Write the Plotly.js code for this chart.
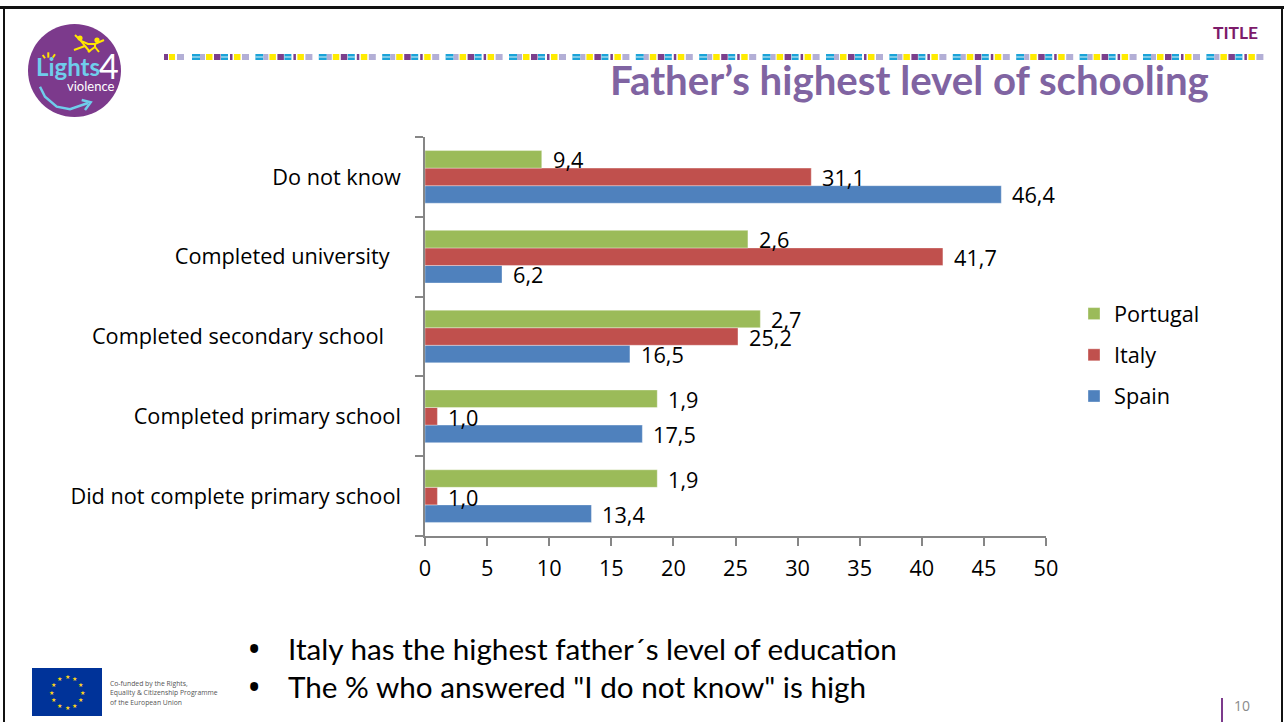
<!DOCTYPE html>
<html>
<head>
<meta charset="utf-8">
<script src="https://cdn.plot.ly/plotly-3.0.1.min.js"></script>
<style>html,body{margin:0;padding:0;background:#fff;overflow:hidden}#chart{width:1284px;height:722px}</style>
</head>
<body>
<div id="chart"></div>
<script>
const categories = ['Did not complete primary school','Completed primary school','Completed secondary school\u00a0\u00a0\u00a0','Completed university\u00a0\u00a0','Do not know'];
const spainValues = [13.4,17.5,16.5,6.2,46.4];
const italyValues = [1.0,1.0,25.2,41.7,31.1];
const portugalValues = [18.7,18.7,27.0,26.0,9.4];
const spainLabels = ['13,4','17,5','16,5','6,2','46,4'];
const italyLabels = ['1,0','1,0','25,2','41,7','31,1'];
const portugalLabels = ['1,9','1,9','2,7','2,6','9,4'];
const xTicks = [0,5,10,15,20,25,30,35,40,45,50];

const W=1284,H=722,L=425,T=137,PW=621,PH=399;
const FONT='"Open Sans", sans-serif', CAL='Lato, sans-serif', FS=21.7;
const px=x=>(x-L)/PW, py=y=>1-(y-T)/PH;
const rect=(x0,y0,x1,y1,c)=>({type:'rect',xref:'paper',yref:'paper',x0:px(x0),x1:px(x1),y0:py(y1),y1:py(y0),fillcolor:c,line:{width:0},layer:'above'});
const path=(pts,c,w)=>({type:'path',xref:'paper',yref:'paper',path:'M'+pts.map(p=>px(p[0])+','+py(p[1])).join('L'),line:{color:c,width:w},layer:'above'});
const dot=(x,y,r,c)=>({type:'circle',xref:'paper',yref:'paper',x0:px(x-r),x1:px(x+r),y0:py(y+r),y1:py(y-r),fillcolor:c,line:{width:0},layer:'above'});
const note=(x,y,t,size,color,anchor,font,extra)=>Object.assign({xref:'paper',yref:'paper',x:px(x),y:py(y),text:t,showarrow:false,xanchor:anchor||'left',yanchor:'middle',font:{size:size,color:color,family:font||CAL},borderpad:0},extra||{});

const shapes=[], annotations=[];
// slide frame
shapes.push(rect(0,6,W,9,'#111'),rect(3,6,5,H,'#111'),rect(1281,6,1283,H,'#111'));
// ribbon
const PUR='#7B3F8C',YEL='#FFEB00',LAV='#B3AFD6',CYA='#1BA3D8';
[[164,168,PUR],[169,175,YEL],[177,184,LAV]].forEach(s=>shapes.push(rect(s[0],54,s[1],60,s[2])));
const motif=[[0,8,CYA],[8,13,LAV],[14,20.5,YEL],[22,28.5,PUR],[29,36,CYA],[38,40.5,PUR],[42,48.5,YEL],[50,57,LAV]];
for(let o=192;o<1262;o+=63.4){motif.forEach(s=>{if(o+s[0]<1265){const e=Math.min(o+s[1],1265);shapes.push(rect(o+s[0],54,e,60,s[2]));if(s[2]===CYA)shapes.push(rect(o+s[0],56.5,e,57.5,'#DDF1F8'));}});}
// logo
const YL='#FFE600',CY='#6FCDEB';
shapes.push(dot(74.5,70.5,46.5,'#7C3A8C'));
shapes.push(dot(80,38,2.6,YL),dot(97,40,2.6,YL));
shapes.push(path([[75,35],[81,41],[88,44],[95,44],[104,40]],YL,2));
shapes.push(path([[81,41],[85,46],[74,50]],YL,2),path([[85,46],[90,52]],YL,2));
shapes.push(path([[95,44],[95,47],[88,52]],YL,2),path([[95,47],[99,52]],YL,2));
shapes.push(path([[42.7,55],[45,58.3]],YL,2),path([[48.3,52.3],[48.3,57.7]],YL,2),path([[55,54.3],[52.7,57.7]],YL,2));
shapes.push(path([[40,86.7],[45,96.7],[56.7,106.7],[70,109.3],[88,103]],CY,2.5));
shapes.push(path([[81.7,100],[90.7,102.3],[85,110]],CY,2.5));
annotations.push(note(35,67,'<b>Lights</b>',24,CY,'left',CAL));
annotations.push(note(98,65,'4',34,'#FFFFFF','left',CAL));
annotations.push(note(115,85.5,'violence',13,'#FFFFFF','right',CAL));
// title and corner
annotations.push(note(1210,79,'<b>Father’s highest level of schooling</b>',40.2,'#8064A2','right',CAL));
annotations.push(note(1259,32,'<b>TITLE</b>',17.4,'#7D1B6A','right',CAL));
// bullets
annotations.push(note(254,648,'•',38,'#000','center',FONT));
annotations.push(note(254,686,'•',38,'#000','center',FONT));
annotations.push(note(287,648,'Italy has the highest father´s level of education',29.7,'#000','left',CAL));
annotations.push(note(287,686,'The % who answered "I do not know" is high',29.7,'#000','left',CAL));
// EU flag
shapes.push(rect(32,668,102,716,'#003399'));
for(let i=0;i<12;i++){const a=i*Math.PI/6;annotations.push(note(67+15.5*Math.sin(a),692-15.5*Math.cos(a),'★',6,'#FFD617','center','"DejaVu Sans"'));}
annotations.push(note(109,683,'Co-funded by the Rights,',6.8,'#555','left','"Open Sans"'));
annotations.push(note(109,692.5,'Equality &amp; Citizenship Programme',6.8,'#555','left','"Open Sans"'));
annotations.push(note(109,702.5,'of the European Union',6.8,'#555','left','"Open Sans"'));
// page number
shapes.push(rect(1221,698,1223,722,'#7C3A8C'));
annotations.push(note(1242,705,'10',14,'#8A8A8A','center','"Open Sans"'));

// data labels
const addLabels=(vals,labels,yshift)=>vals.forEach((v,i)=>annotations.push({xref:'x',yref:'y',x:v,y:categories[i],text:labels[i],showarrow:false,xanchor:'left',yanchor:'middle',xshift:10,yshift:yshift,font:{size:FS,color:'#000',family:FONT},borderpad:0}));
addLabels(spainValues,spainLabels,-18);
addLabels(italyValues,italyLabels,-1);
addLabels(portugalValues,portugalLabels,17);

const bar=(name,vals,color,rank)=>({type:'bar',orientation:'h',name:name,x:vals,y:categories,legendgroup:name,legendrank:rank,hoverinfo:'x+y',
  marker:{color:color,line:{color:'rgba(255,255,255,0.35)',width:1}}});
const data=[bar('Spain',spainValues,'#4F81BD',3),bar('Italy',italyValues,'#C0504D',2),bar('Portugal',portugalValues,'#9BBB59',1)];
const layout={
  width:W,height:H,paper_bgcolor:'#fff',plot_bgcolor:'#fff',
  margin:{l:L,t:T,r:W-L-PW,b:H-T-PH,pad:0},
  barmode:'group',bargap:0.34,bargroupgap:0,
  font:{family:FONT,size:FS,color:'#000'},
  xaxis:{range:[0,50],tickvals:xTicks,ticktext:xTicks.map(String),ticks:'outside',ticklen:8,tickcolor:'#868686',tickwidth:1.5,
    showgrid:false,zeroline:false,showline:true,linecolor:'#868686',linewidth:1.5,tickfont:{size:FS,family:FONT,color:'#000'},ticklabelstandoff:4},
  yaxis:{type:'category',categoryorder:'array',categoryarray:categories,tickson:'boundaries',ticks:'outside',ticklen:8,tickcolor:'#868686',tickwidth:1.5,
    showgrid:false,zeroline:false,showline:true,linecolor:'#868686',linewidth:1.5,tickfont:{size:FS,family:FONT,color:'#000'},ticklabelstandoff:18},
  legend:{x:px(1074),y:py(293),xanchor:'left',yanchor:'top',traceorder:'grouped',tracegroupgap:10,font:{size:FS,family:FONT,color:'#000'},bgcolor:'rgba(0,0,0,0)'},
  shapes:shapes,annotations:annotations
};
Plotly.newPlot('chart',data,layout,{displayModeBar:false,responsive:false});
</script>
</body>
</html>
